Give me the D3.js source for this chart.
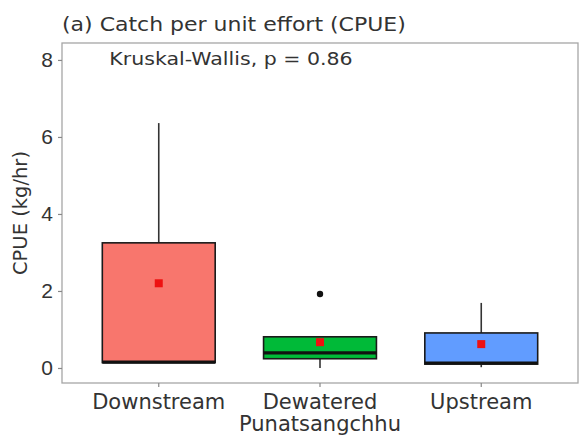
<!DOCTYPE html>
<html>
<head>
<meta charset="utf-8">
<script src="https://cdn.jsdelivr.net/npm/d3@7"></script>
<style>
  html, body { margin: 0; padding: 0; background: #fff; }
  svg { display: block; font-family: "DejaVu Sans", "Liberation Sans", Arial, sans-serif; }
</style>
</head>
<body>
<svg id="chart" width="579" height="437"></svg>
<script>
// Sites along the river and their CPUE box-plot summaries (kg/hr)
const sites = ["Downstream", "Dewatered\nPunatsangchhu", "Upstream"];
const fills = ["#F8766D", "#00BA38", "#619CFF"];
const lowerWhisker = [0.14, 0.0, 0.02];
const q1 = [0.14, 0.24, 0.1];
const median = [0.15, 0.39, 0.13];
const q3 = [3.25, 0.81, 0.91];
const upperWhisker = [6.36, 0.81, 1.69];
const means = [2.2, 0.67, 0.62];
const outliers = [[], [1.92], []];
const yTicks = [0, 2, 4, 6, 8];

const title = "(a) Catch per unit effort (CPUE)";
const testLabel = "Kruskal-Wallis, p = 0.86";
const yLabel = "CPUE (kg/hr)";

const svg = d3.select("#chart");
const panel = { left: 62, right: 578, top: 43, bottom: 383 };

// discrete axis with 0.6-step expansion on each side
const x = d3.scalePoint()
  .domain(sites)
  .range([panel.left, panel.right])
  .padding(0.6);
const boxW = x.step() * 0.7;

const y = d3.scaleLinear().domain([-0.39, 8.44]).range([panel.bottom, panel.top]);

// panel border
svg.append("rect")
  .attr("x", panel.left).attr("y", panel.top)
  .attr("width", panel.right - panel.left).attr("height", panel.bottom - panel.top)
  .attr("fill", "#fff").attr("stroke", "#a6a6a6").attr("stroke-width", 1.3);

// y axis
const yAxis = svg.append("g")
  .attr("transform", `translate(${panel.left},0)`)
  .call(d3.axisLeft(y).tickValues(yTicks).tickSize(4).tickPadding(5).tickFormat(d3.format("d")));
yAxis.select(".domain").remove();
yAxis.selectAll(".tick line").attr("stroke", "#888").attr("stroke-width", 1.2);
yAxis.selectAll(".tick text").attr("fill", "#333").attr("font-size", 21);

// x axis ticks and labels
const xAxisG = svg.append("g");
sites.forEach(s => {
  const cx = x(s);
  xAxisG.append("line")
    .attr("x1", cx).attr("x2", cx)
    .attr("y1", panel.bottom).attr("y2", panel.bottom + 4)
    .attr("stroke", "#888").attr("stroke-width", 1.2);
  s.split("\n").forEach((line, i) => {
    xAxisG.append("text")
      .attr("x", cx).attr("y", 409 + i * 22)
      .attr("text-anchor", "middle")
      .attr("fill", "#333")
      .attr("font-size", 21)
      .text(line);
  });
});

// boxes, whiskers, medians, outliers and means
const boxes = svg.append("g");
sites.forEach((s, i) => {
  const cx = x(s);
  boxes.append("line")
    .attr("x1", cx).attr("x2", cx)
    .attr("y1", y(q3[i])).attr("y2", y(upperWhisker[i]))
    .attr("stroke", "#333").attr("stroke-width", 1.6);
  boxes.append("line")
    .attr("x1", cx).attr("x2", cx)
    .attr("y1", y(q1[i])).attr("y2", y(lowerWhisker[i]))
    .attr("stroke", "#333").attr("stroke-width", 1.6);
  boxes.append("rect")
    .attr("x", cx - boxW / 2).attr("y", y(q3[i]))
    .attr("width", boxW).attr("height", y(q1[i]) - y(q3[i]))
    .attr("fill", fills[i]).attr("stroke", "#1a1a1a").attr("stroke-width", 1.6);
  boxes.append("line")
    .attr("x1", cx - boxW / 2).attr("x2", cx + boxW / 2)
    .attr("y1", y(median[i])).attr("y2", y(median[i]))
    .attr("stroke", "#111").attr("stroke-width", 3.2);
  outliers[i].forEach(v => {
    boxes.append("circle")
      .attr("cx", cx).attr("cy", y(v)).attr("r", 3.2).attr("fill", "#111");
  });
  boxes.append("rect")
    .attr("x", cx - 4).attr("y", y(means[i]) - 4)
    .attr("width", 8).attr("height", 8)
    .attr("fill", "#ee1111");
});

// test annotation (set slightly wide)
svg.append("text")
  .attr("transform", "translate(231,65) scale(1.14,1)")
  .attr("text-anchor", "middle")
  .attr("fill", "#333").attr("font-size", 18)
  .text(testLabel);

// title (set slightly wide)
svg.append("text")
  .attr("transform", "translate(62,31) scale(1.1,1)")
  .attr("fill", "#333").attr("font-size", 20)
  .text(title);

// y axis title
svg.append("text")
  .attr("transform", `translate(27,${(panel.top + panel.bottom) / 2}) rotate(-90)`)
  .attr("text-anchor", "middle")
  .attr("fill", "#333").attr("font-size", 19.5)
  .text(yLabel);
</script>
</body>
</html>
